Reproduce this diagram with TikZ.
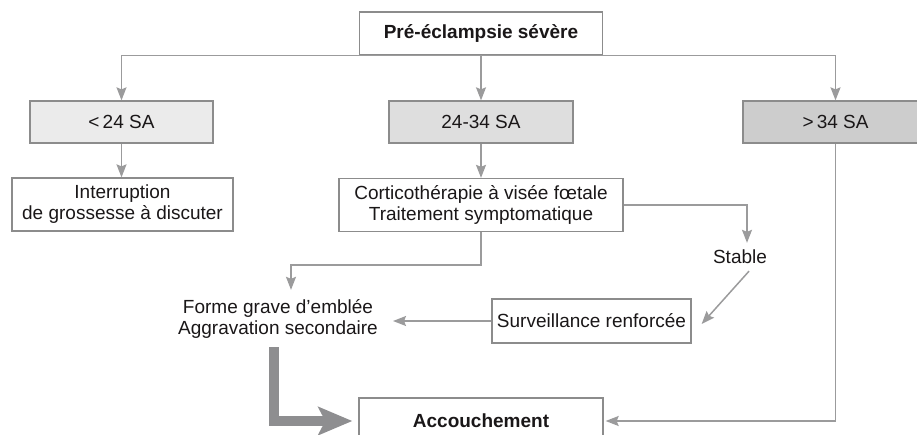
\documentclass[tikz,border=0pt]{standalone}
\usepackage{fontspec}
\setmainfont{Liberation Sans}
\usetikzlibrary{arrows.meta}
\definecolor{linegray}{HTML}{9B9B9C}
\definecolor{darkline}{HTML}{8E8E90}
\definecolor{boxgray}{HTML}{8C8C8C}
\definecolor{fillA}{HTML}{EBEBEB}
\definecolor{fillB}{HTML}{DEDEDE}
\definecolor{fillC}{HTML}{CDCDCD}
\definecolor{txt}{HTML}{1A1718}

\begin{document}
\begin{tikzpicture}[x=1pt, y=-1pt,
	box/.style={draw=boxgray, line width=1.3pt, text=txt, align=center, inner sep=0pt},
	plain/.style={text=txt, align=center},
	arr/.style={draw=linegray, line width=1.5pt, -{Stealth[width=10pt,length=13pt,inset=2pt]}},
	bigarr/.style={draw=darkline, line width=10.5pt, -{Stealth[width=28pt,length=34pt,inset=7pt]}}]
		\def\textsize{\fontsize{19pt}{21pt}\selectfont}
		\def\rowh{42pt}
		\def\boxh{53pt}
		
		\useasboundingbox (0,0) rectangle (917,434);
		\clip (0,0) rectangle (917,434);
		
		% draw boxes
		\node[box, font=\textsize\bfseries, minimum width=243pt, minimum height=43pt] (top) at (481,33.5) {Pré-éclampsie sévère};
		\node[box, font=\textsize, fill=fillA, minimum width=183pt, minimum height=\rowh] (lt24) at (121.5,122) {<\,24 SA};
		\node[box, font=\textsize, fill=fillB, minimum width=184pt, minimum height=\rowh] (mid) at (481,122) {24-34 SA};
		\node[box, font=\textsize, fill=fillC, minimum width=185pt, minimum height=\rowh] (gt34) at (835.5,122) {>\,34 SA};
		\node[box, font=\textsize, minimum width=221pt, minimum height=\boxh] (interr) at (122.5,204.5) {Interruption\\de grossesse à discuter};
		\node[box, font=\textsize, minimum width=284pt, minimum height=\boxh] (cortico) at (481,205) {Corticothérapie à visée fœtale\\Traitement symptomatique};
		\node[plain, font=\textsize, inner xsep=2pt, inner ysep=7pt] (stable) at (740,257) {Stable};
		\node[plain, font=\textsize, inner xsep=15pt, inner ysep=9pt] (grave) at (278,318.5) {Forme grave d’emblée\\Aggravation secondaire};
		\node[box, font=\textsize, minimum width=199pt, minimum height=44pt] (surv) at (591.5,321) {Surveillance renforcée};
		\node[box, font=\textsize\bfseries, minimum width=244pt, minimum height=46pt] (accouch) at (481,421) {Accouchement};
		
		% draw connectors
		\draw[arr] (top.south) -- (mid.north);
		\draw[arr] (top.south) -| (lt24.north);
		\draw[arr] (top.south) -| (gt34.north);
		\draw[arr] (lt24.south) -- (lt24.south |- interr.north);
		\draw[arr] (mid.south) -- (cortico.north);
		\draw[arr] (cortico.east) -| ([xshift=7pt]stable.north);
		\draw[arr] ([xshift=9pt]stable.south) -- ([xshift=10pt,yshift=-3pt]surv.east);
		\draw[arr] (surv.west) -- (surv.west -| grave.east);
		\draw[arr] (cortico.south) -- ++(0,33) -| ([xshift=13pt]grave.north);
		\draw[bigarr] ([xshift=-4pt]grave.south) |- ([xshift=-6pt]accouch.west);
		\draw[arr] (gt34.south) |- ([xshift=2pt]accouch.east);
\end{tikzpicture}
\end{document}
